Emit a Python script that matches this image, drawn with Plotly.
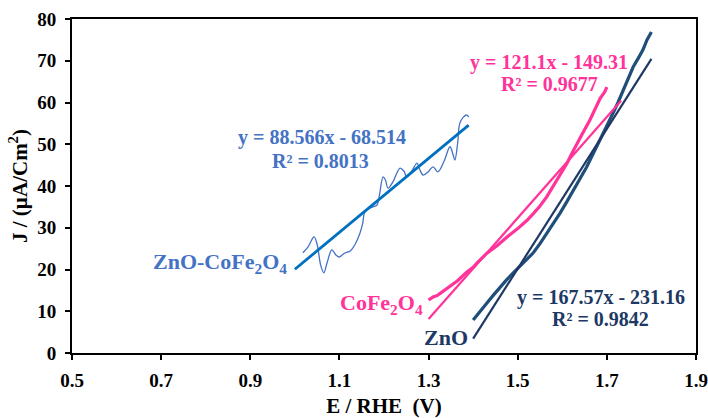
import plotly.graph_objects as go

# ZnO-CoFe2O4 data
zc_x = [1.018, 1.03, 1.043, 1.05, 1.058, 1.065, 1.072, 1.083, 1.092, 1.10, 1.11, 1.125, 1.135, 1.146,
        1.152, 1.157, 1.165, 1.175, 1.184, 1.19, 1.198, 1.203, 1.209, 1.22, 1.236, 1.245, 1.251, 1.262,
        1.274, 1.28, 1.288, 1.30, 1.31, 1.321, 1.335, 1.348, 1.355, 1.359, 1.365, 1.370, 1.378, 1.386, 1.39]
zc_y = [24, 25.5, 27.8, 26, 21, 19.2, 21.5, 24.7, 23.5, 23, 23.8, 24.5, 26, 28.7,
        31, 33.8, 34.5, 35, 35.4, 38, 42.2, 41.5, 39.5, 41, 44.3, 43.5, 42.2, 43.5,
        45.5, 44, 42.6, 43.5, 44.6, 43.4, 46, 49.4, 47.5, 46.2, 50, 55, 56.5, 57, 56.5]

# CoFe2O4 data
cf_x = [1.30, 1.31, 1.32, 1.335, 1.348, 1.365, 1.386, 1.40, 1.41, 1.431, 1.455, 1.476, 1.50, 1.521,
        1.535, 1.550, 1.565, 1.579, 1.595, 1.611, 1.62, 1.633, 1.645, 1.662, 1.675, 1.685, 1.695, 1.70]
cf_y = [12.7, 13.4, 13.8, 15.0, 15.8, 17.3, 19.4, 20.5, 21.7, 23.9, 25.8, 27.8, 29.8, 31.8,
        33.4, 35.2, 37.4, 39.8, 42.8, 45.5, 47.5, 50.3, 52.5, 55.8, 58.5, 61, 62.5, 63.7]

# ZnO data
zn_x = [1.40, 1.415, 1.431, 1.445, 1.46, 1.475, 1.49, 1.51, 1.535, 1.55, 1.565, 1.58, 1.595, 1.61,
        1.624, 1.64, 1.655, 1.67, 1.685, 1.70, 1.714, 1.725, 1.737, 1.748, 1.759, 1.77, 1.781, 1.79, 1.80]
zn_y = [7.9, 10, 12, 13.8, 15.8, 17.5, 19.2, 21.4, 24.0, 26.2, 28.6, 31, 33.5, 36.2,
        39, 41.8, 44.6, 47.8, 51, 54.2, 57.5, 60, 63, 65.5, 68.5, 70.5, 72.6, 75, 76.9]

# Linear trendlines: slope, intercept, x-range
zc_fit = (88.566, -68.514, 1.0, 1.39)
cf_fit = (121.1, -149.31, 1.30, 1.732)
zn_fit = (167.57, -231.16, 1.40, 1.80)

x_ticks = [0.5, 0.7, 0.9, 1.1, 1.3, 1.5, 1.7, 1.9]
y_ticks = [0, 10, 20, 30, 40, 50, 60, 70, 80]

BLUE = "#4472C4"
BLUE_T = "#0070C0"
PINK = "#FF3399"
NAVY = "#1F4E79"
NAVY_T = "#203864"
FONT = "Liberation Serif"


def fit_line(f):
    a, b, x0, x1 = f
    return [x0, x1], [a * x0 + b, a * x1 + b]


fig = go.Figure()
fig.add_trace(go.Scatter(x=zc_x, y=zc_y, mode="lines", line=dict(color=BLUE, width=1.3, shape="spline"),
                         showlegend=False))
fig.add_trace(go.Scatter(x=cf_x, y=cf_y, mode="lines", line=dict(color=PINK, width=3.2), showlegend=False))
fig.add_trace(go.Scatter(x=zn_x, y=zn_y, mode="lines", line=dict(color=NAVY, width=3.2), showlegend=False))

for f, c, w in [(zc_fit, BLUE_T, 2.8), (cf_fit, PINK, 2.2), (zn_fit, NAVY_T, 2.2)]:
    lx, ly = fit_line(f)
    fig.add_trace(go.Scatter(x=lx, y=ly, mode="lines", line=dict(color=c, width=w), showlegend=False))

def ann(text, x, y, color, size, xanchor="center"):
    fig.add_annotation(x=x, y=y, text=text, showarrow=False, xanchor=xanchor, yanchor="middle",
                       font=dict(family=FONT, size=size, color=color, weight="bold"))

ann("y = 88.566x - 68.514", 1.060, 51.7, BLUE, 20)
ann("R² = 0.8013", 1.058, 46.0, BLUE, 20)
ann("y = 121.1x - 149.31", 1.570, 69.7, PINK, 20)
ann("R² = 0.9677", 1.571, 64.5, PINK, 20)
ann("y = 167.57x - 231.16", 1.687, 13.4, NAVY_T, 20)
ann("R² = 0.9842", 1.685, 8.1, NAVY_T, 20)

ann("ZnO-CoFe<sub>2</sub>O<sub>4</sub>", 0.987, 21.5, BLUE, 22, "right")
ann("CoFe<sub>2</sub>O<sub>4</sub>", 1.293, 11.7, PINK, 22, "right")
ann("ZnO", 1.393, 3.6, NAVY_T, 22, "right")

axis_common = dict(showline=True, linecolor="black", linewidth=2, mirror=True, ticks="outside",
                   ticklen=5, tickwidth=1.5, tickcolor="black", showgrid=False, zeroline=False,
                   automargin=False,
                   tickfont=dict(family=FONT, size=19, color="black", weight="bold"))

fig.update_xaxes(range=[0.5, 1.9], tickvals=x_ticks, ticktext=[f"{v:.1f}" for v in x_ticks],
                 ticklabelstandoff=4,
                 title=dict(text="E / RHE&nbsp; (V)", font=dict(family=FONT, size=21, color="black", weight="bold"),
                            standoff=10),
                 **axis_common)
fig.update_yaxes(range=[0, 80], tickvals=y_ticks, ticklabelstandoff=5,
                 title=dict(text="J / (µA/Cm<sup>2</sup>)", font=dict(family=FONT, size=21, color="black", weight="bold"),
                            standoff=4),
                 **axis_common)

fig.update_layout(width=708, height=418, margin=dict(l=72, r=12, t=19, b=65),
                  plot_bgcolor="white", paper_bgcolor="white")

fig.write_html("out.html")
